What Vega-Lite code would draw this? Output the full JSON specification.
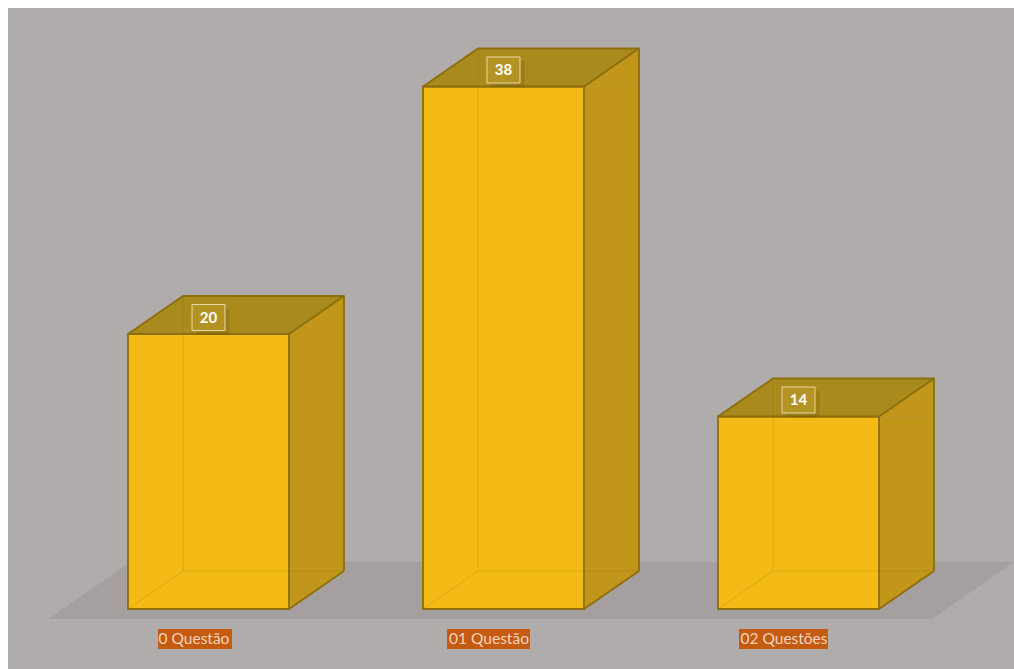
{
  "$schema": "https://vega.github.io/schema/vega-lite/v6.json",
  "width": 1006,
  "height": 661,
  "padding": {"left": 8, "top": 8, "right": 0, "bottom": 0},
  "autosize": {"type": "none"},
  "background": "#ffffff",
  "config": {"view": {"fill": "#b0acab", "stroke": null}},
  "data": {
    "values": [
      {"categoria": "0 Questão", "valor": 20},
      {"categoria": "01 Questão", "valor": 38},
      {"categoria": "02 Questões", "valor": 14}
    ]
  },
  "encoding": {
    "x": {
      "field": "categoria",
      "type": "nominal",
      "sort": null,
      "axis": null,
      "scale": {"type": "band", "domain": ["0 Questão", "01 Questão", "02 Questões"], "range": [53, 938], "paddingInner": 0, "paddingOuter": 0}
    }
  },
  "layer": [
    {
      "transform": [{"filter": "datum.categoria == '01 Questão'"}],
      "mark": {"type": "point", "filled": true, "size": 4, "opacity": 1, "fill": "#a5a09f", "strokeWidth": 0,
        "shape": "M-455.5,10 L428.5,10 L510.5,-47 L-373,-47 Z"},
      "encoding": {"y": {"datum": 0, "type": "quantitative", "axis": null, "scale": {"domain": [-4.364, 43.709], "nice": false, "zero": false}}}
    },
    {
      "mark": {"type": "bar", "width": 55, "xOffset": 108, "y2Offset": -38, "fill": "#c2961a", "strokeWidth": 0},
      "encoding": {
        "y": {"field": "valor", "type": "quantitative"},
        "y2": {"datum": 0}
      }
    },
    {
      "mark": {"type": "point", "filled": true, "size": 4, "opacity": 1, "fill": "#c2961a", "stroke": "#c2961a", "strokeWidth": 0.5,
        "shape": "M80.5,0 L135.5,-38 L135.5,0 Z"},
      "encoding": {"y": {"field": "valor", "type": "quantitative"}}
    },
    {
      "mark": {"type": "point", "filled": true, "size": 4, "opacity": 1, "fill": "#c2961a", "stroke": "#c2961a", "strokeWidth": 0.5,
        "shape": "M80.5,-38 L80.5,0 L135.5,-38 Z"},
      "encoding": {"y": {"datum": 0, "type": "quantitative"}}
    },
    {
      "mark": {"type": "point", "filled": false, "size": 4, "opacity": 1, "stroke": "#8c6e0c", "strokeWidth": 1.8,
        "shape": "M80.5,0 L135.5,-38"},
      "encoding": {"y": {"datum": 0, "type": "quantitative"}}
    },
    {
      "mark": {"type": "rule", "xOffset": 135.5, "yOffset": -38, "y2Offset": -38, "stroke": "#8c6e0c", "strokeWidth": 1.8},
      "encoding": {
        "y": {"field": "valor", "type": "quantitative"},
        "y2": {"datum": 0}
      }
    },
    {
      "mark": {"type": "bar", "width": 161, "fill": "#f4bb16", "stroke": "#8c6e0c", "strokeWidth": 1.8},
      "encoding": {
        "y": {"field": "valor", "type": "quantitative"},
        "y2": {"datum": 0}
      }
    },
    {
      "mark": {"type": "point", "filled": false, "size": 4, "opacity": 1, "stroke": "#8c6e0c", "strokeOpacity": 0.18, "strokeWidth": 1.2,
        "shape": "M-80.5,0 L-25.5,-38 L135.5,-38"},
      "encoding": {"y": {"datum": 0, "type": "quantitative"}}
    },
    {
      "mark": {"type": "point", "filled": true, "size": 4, "opacity": 1, "fill": "#a98a1c", "stroke": "#8c6e0c", "strokeWidth": 1.8, "strokeJoin": "round",
        "shape": "M-80.5,0 L80.5,0 L135.5,-38 L-25.5,-38 Z"},
      "encoding": {"y": {"field": "valor", "type": "quantitative"}}
    },
    {
      "mark": {"type": "rule", "xOffset": -25.5, "yOffset": -38, "y2Offset": -38, "stroke": "#8c6e0c", "strokeOpacity": 0.18, "strokeWidth": 1.2},
      "encoding": {
        "y": {"field": "valor", "type": "quantitative"},
        "y2": {"datum": 0}
      }
    },
    {
      "mark": {"type": "point", "filled": true, "size": 4, "opacity": 0.12, "fill": "#3a2c00", "strokeWidth": 0,
        "shape": "M-13,-9 H21 V17 H-13 Z", "yOffset": -16.5},
      "encoding": {"y": {"field": "valor", "type": "quantitative"}}
    },
    {
      "mark": {"type": "point", "filled": true, "size": 4, "opacity": 1, "fill": "#b39422", "stroke": "#e6d9a8", "strokeWidth": 1,
        "shape": "M-16.5,-13 H16.5 V13 H-16.5 Z", "yOffset": -16.5},
      "encoding": {"y": {"field": "valor", "type": "quantitative"}}
    },
    {
      "mark": {"type": "text", "yOffset": -16, "fill": "#ffffff", "font": "Lato", "fontWeight": "bold", "fontSize": 15, "baseline": "middle", "align": "center"},
      "encoding": {
        "y": {"field": "valor", "type": "quantitative"},
        "text": {"field": "valor", "type": "quantitative"}
      }
    },
    {
      "mark": {"type": "point", "filled": true, "size": 4, "opacity": 1, "fill": "#c55a11", "strokeWidth": 0},
      "encoding": {
        "y": {"datum": 0, "type": "quantitative"},
        "shape": {
          "field": "categoria",
          "type": "nominal",
          "legend": null,
          "scale": {
            "domain": ["0 Questão", "01 Questão", "02 Questões"],
            "range": [
              "M-50.5,20 H23.5 V40 H-50.5 Z",
              "M-56.5,20 H26.5 V40 H-56.5 Z",
              "M-59.5,20 H29.5 V40 H-59.5 Z"
            ]
          }
        }
      }
    },
    {
      "mark": {"type": "text", "yOffset": 30, "xOffset": -14.5, "fill": "#f3d4bf", "font": "Lato", "fontSize": 15.5, "baseline": "middle", "align": "center"},
      "encoding": {
        "y": {"datum": 0, "type": "quantitative"},
        "text": {"field": "categoria", "type": "nominal"}
      }
    }
  ]
}
